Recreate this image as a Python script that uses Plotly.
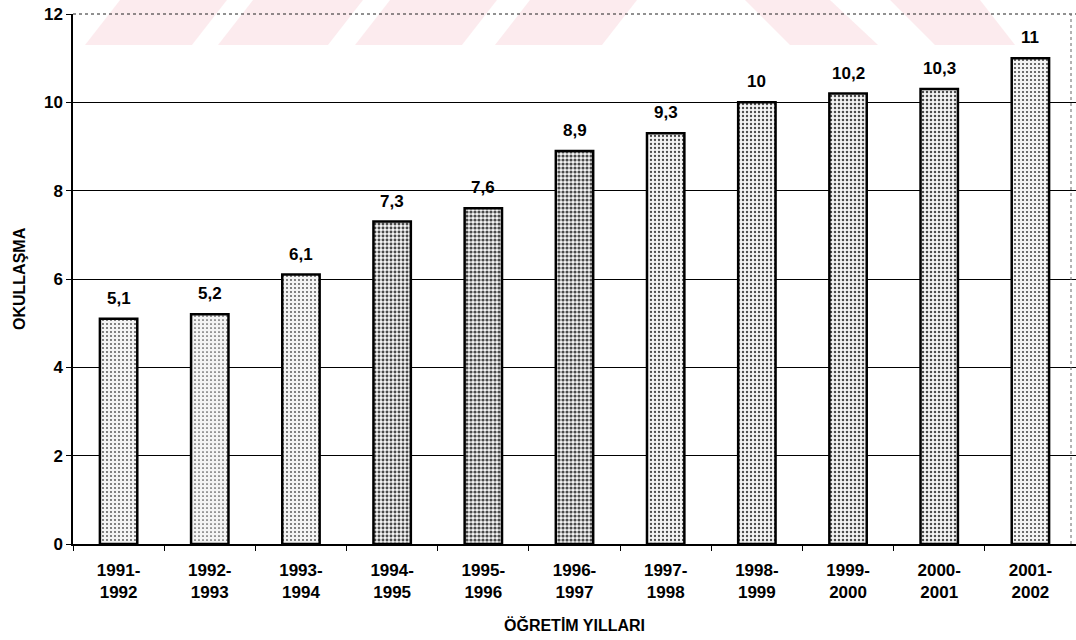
import plotly.graph_objects as go

years = ["1991-<br>1992", "1992-<br>1993", "1993-<br>1994", "1994-<br>1995", "1995-<br>1996",
         "1996-<br>1997", "1997-<br>1998", "1998-<br>1999", "1999-<br>2000", "2000-<br>2001",
         "2001-<br>2002"]
values = [5.1, 5.2, 6.1, 7.3, 7.6, 8.9, 9.3, 10, 10.2, 10.3, 11]
labels = ["5,1", "5,2", "6,1", "7,3", "7,6", "8,9", "9,3", "10", "10,2", "10,3", "11"]
shade = [0.16, 0.14, 0.16, 0.42, 0.50, 0.48, 0.26, 0.28, 0.32, 0.30, 0.22]

W, H = 1076, 640
PL, PR, PT, PB = 73, 1076, 14, 544          # plot area in page pixels
ML, MT = PL, PT
MR = W - PR
MB = H - PB
PW, PH = PR - PL, PB - PT

FONT = "Liberation Sans, Arial, sans-serif"

def px2paper(x, y):
    return (x - PL) / PW, (PB - y) / PH

fig = go.Figure()
fig.add_trace(go.Bar(
    x=years, y=values,
    marker=dict(
        color="white",
        line=dict(color="black", width=2.5),
        pattern=dict(shape=".", fgcolor="#4a4a4a", bgcolor="#f4f4f4",
                     size=4, solidity=shade, fillmode="replace"),
    ),
    width=0.41,
    hoverinfo="skip",
))

for xv, yv, t in zip(years, values, labels):
    fig.add_annotation(x=xv, y=yv, text=f"<b>{t}</b>", showarrow=False,
                       yanchor="bottom", yshift=9,
                       font=dict(family=FONT, size=17, color="black"))

# axis titles
tx, ty = px2paper(574, 625)
fig.add_annotation(xref="paper", yref="paper", x=tx, y=ty, text="<b>ÖĞRETİM YILLARI</b>",
                   showarrow=False, yanchor="middle", xanchor="center",
                   font=dict(family=FONT, size=16, color="black"))
tx, ty = px2paper(19, 279)
fig.add_annotation(xref="paper", yref="paper", x=tx, y=ty, text="<b>OKULLAŞMA</b>",
                   showarrow=False, textangle=-90, xanchor="center", yanchor="middle",
                   font=dict(family=FONT, size=16, color="black"))

# faint watermark stripes at the top of the page
stripes = []
for top0, top1 in [(120, 227), (253, 363), (390, 497), (530, 637)]:
    stripes.append([(top0, 0), (top1, 0), (top1 - 35, 45), (top0 - 35, 45)])
for top0, top1, b0, b1 in [(745, 830, 790, 878), (890, 980, 935, 1015)]:
    stripes.append([(top0, 0), (top1, 0), (b1, 45), (b0, 45)])
for poly in stripes:
    pts = [px2paper(x, y) for x, y in poly]
    path = "M " + " L ".join(f"{a:.4f},{b:.4f}" for a, b in pts) + " Z"
    fig.add_shape(type="path", path=path, xref="paper", yref="paper",
                  fillcolor="rgba(250,215,222,0.5)", line=dict(width=0), layer="below")

# top grid line and right dashed border
fig.add_shape(type="line", xref="paper", yref="paper", x0=0, x1=1, y0=1, y1=1,
              line=dict(color="#222222", width=1, dash="dot"))
bx, _ = px2paper(1071, 0)
fig.add_shape(type="line", xref="paper", yref="paper", x0=bx, x1=bx,
              y0=0, y1=1, line=dict(color="#666666", width=1, dash="dot"))

fig.update_layout(
    width=W, height=H,
    margin=dict(l=ML, r=MR, t=MT, b=MB, autoexpand=False),
    paper_bgcolor="white", plot_bgcolor="white",
    showlegend=False,
    font=dict(family=FONT, size=17, color="black"),
    xaxis=dict(
        automargin=False,
        tickfont=dict(family=FONT, size=17, weight="bold"),
        showline=True, linecolor="black", linewidth=1.5,
        ticks="outside", tickson="boundaries", ticklen=5, tickcolor="black",
        ticklabelstandoff=10,
        showgrid=False,
    ),
    yaxis=dict(
        automargin=False, ticklabeloverflow="allow",
        tickfont=dict(family=FONT, size=17, weight="bold"),
        range=[0, 12.001], tickvals=[0, 2, 4, 6, 8, 10, 12],
        showline=True, linecolor="black", linewidth=1.5,
        ticks="outside", ticklen=5, tickcolor="black",
        showgrid=True, gridcolor="black", gridwidth=1,
        zeroline=False,
    ),
)

fig.write_html("out.html", config={"displayModeBar": False},
               post_script="document.body.style.margin='0px';")
